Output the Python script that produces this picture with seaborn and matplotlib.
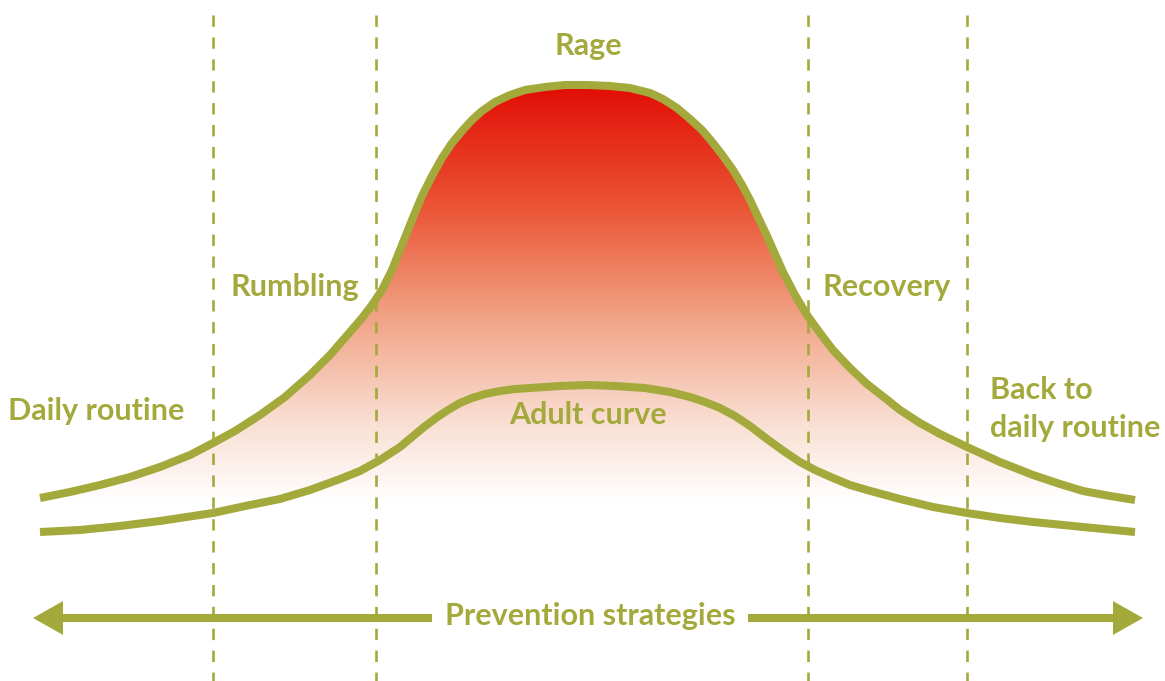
import numpy as np
import pandas as pd
import matplotlib.pyplot as plt
import seaborn as sns
from matplotlib.colors import LinearSegmentedColormap

# curve points (pixel coords, y down)
outer_x = [40, 70, 100, 130, 160, 190, 213, 235, 260, 285, 310, 330, 350, 362, 372, 382, 392,
           402, 412, 422, 432, 442, 452, 462, 472, 482, 495, 510, 525, 545, 565, 588,
           610, 630, 650, 663, 677, 690, 702, 713, 723, 733, 742, 750, 758, 767, 775, 783,
           795, 807, 820, 833, 850, 867, 885, 900, 920, 940, 967, 1000, 1033, 1060, 1083,
           1110, 1135]
outer_y = [498, 492, 485, 477, 467, 455, 443, 431, 415, 397, 375, 355, 332, 318, 305, 290, 270,
           245, 220, 196, 176, 158, 143, 131, 120, 111, 102, 95, 90, 87, 85, 85,
           86, 88, 93, 99, 108, 119, 130, 143, 156, 170, 185, 200, 217, 236, 254, 272,
           295, 315, 333, 350, 368, 384, 398, 410, 423, 434, 447, 462, 475, 484, 491,
           496, 500]

inner_x = [40, 80, 120, 160, 213, 250, 280, 310, 340, 360, 380, 400, 412, 424, 436, 448, 460,
           472, 485, 500, 515, 530, 560, 588, 615, 645, 670, 690, 705, 720, 735, 750, 767,
           785, 800, 815, 833, 850, 867, 900, 933, 967, 1000, 1033, 1083, 1135]
inner_y = [532, 530, 526, 521, 513, 505, 499, 490, 479, 471, 460, 447, 437, 427, 418, 410, 403,
           398, 394, 391, 389, 388, 386, 385, 386, 388, 392, 397, 402, 408, 416, 426, 439,
           452, 462, 470, 478, 485, 490, 499, 507, 513, 518, 522, 527, 532]

phase_x = [213, 376, 808, 967]

labels = ["Rage", "Rumbling", "Recovery", "Daily routine", "Back to\ndaily routine", "Adult curve"]
label_x = [588, 295, 887, 8, 990, 588]
label_y = [46, 287, 287, 411, 409, 415]
label_ha = ["center", "center", "center", "left", "left", "center"]

arrow_tips = [33, 1143]
arrow_head = 30
arrow_y = 618
arrow_text = "Prevention strategies"

olive = "#a4a93c"

sns.set_theme(style="white")
plt.rcParams["font.family"] = ["Lato", "DejaVu Sans"]

fig = plt.figure(figsize=(11.65, 6.81), dpi=100)
ax = fig.add_axes([0, 0, 1, 1])

outer = pd.DataFrame({"x": outer_x, "y": outer_y})
inner = pd.DataFrame({"x": inner_x, "y": inner_y})

# gradient fill under the outer curve
cmap = LinearSegmentedColormap.from_list(
    "rage", [(0, "#e20c04"), (0.3, "#ea5636"), (0.55, "#f1a082"), (0.8, "#f9dccf"), (1, "#ffffff")])
poly = ax.fill_between(outer["x"], outer["y"], 500, facecolor="none", edgecolor="none")
grad = np.linspace(0, 1, 256).reshape(-1, 1)
im = ax.imshow(grad, cmap=cmap, extent=[40, 1135, 500, 84], aspect="auto", origin="upper", zorder=1)
im.set_clip_path(poly.get_paths()[0], transform=ax.transData)

sns.lineplot(data=outer, x="x", y="y", sort=False, estimator=None, color=olive, lw=5.8,
             solid_capstyle="butt", solid_joinstyle="round", ax=ax, zorder=3)
sns.lineplot(data=inner, x="x", y="y", sort=False, estimator=None, color=olive, lw=5.8,
             solid_capstyle="butt", solid_joinstyle="round", ax=ax, zorder=3)
ax.set_xlim(0, 1165)
ax.set_ylim(681, 0)
ax.axis("off")

ax.vlines(phase_x, 15, 681, colors=olive, lw=1.9, linestyles=(0, (4.3, 4.0)), zorder=4)

for txt, x, y, ha in zip(labels, label_x, label_y, label_ha):
    ax.text(x, y, txt, ha=ha, va="center", color=olive, fontsize=22,
            fontweight="bold", linespacing=1.45, zorder=5)

# prevention arrow
ax.plot([arrow_tips[0] + arrow_head, arrow_tips[1] - arrow_head], [arrow_y, arrow_y],
        color=olive, lw=5.8, solid_capstyle="butt", zorder=3)
for tip in arrow_tips:
    start = tip + 40 if tip < 600 else tip - 40
    ax.annotate("", xy=(tip, arrow_y), xytext=(start, arrow_y),
                arrowprops=dict(arrowstyle="-|>,head_length=21.6,head_width=12.2",
                                mutation_scale=1, lw=0, color=olive,
                                shrinkA=0, shrinkB=0), zorder=4)
ax.text(590, arrow_y - 2, arrow_text, ha="center", va="center", color=olive, fontsize=22,
        fontweight="bold", zorder=6,
        bbox=dict(boxstyle="square,pad=0.4", fc="white", ec="none"))

fig.savefig("out.png", dpi=100)
